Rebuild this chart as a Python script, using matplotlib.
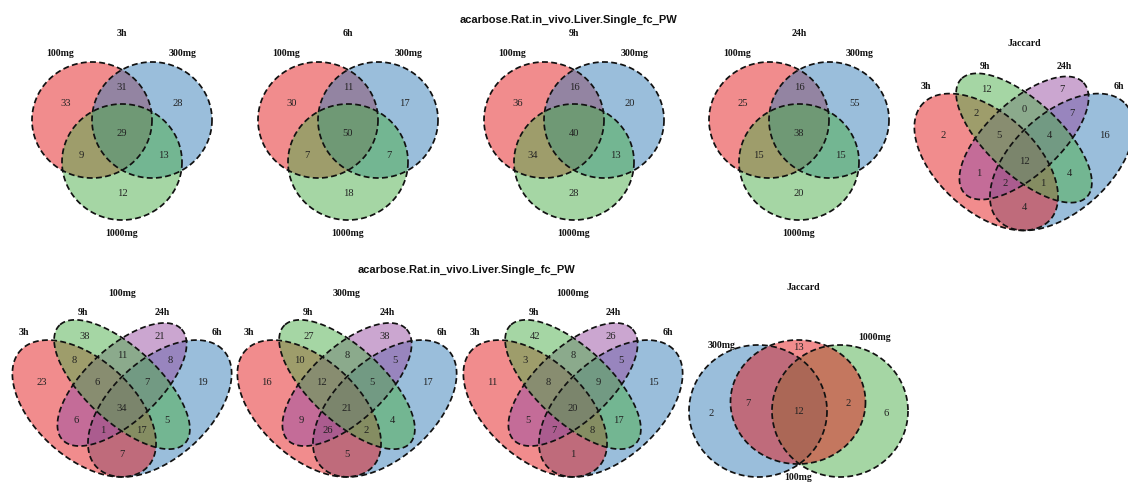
import numpy as np
import matplotlib
matplotlib.use("Agg")
import matplotlib.pyplot as plt
from matplotlib.patches import Polygon

# ---------------- data ----------------
main_title = "acarbose.Rat.in_vivo.Liver.Single_fc_PW"
dose_labels = ["100mg", "300mg", "1000mg"]
time_labels = ["3h", "9h", "24h", "6h"]          # quad order: left outer, left inner, right inner, right outer

# triple venn (A=100mg, B=300mg, C=1000mg); regions: A, AB, B, ABC, AC, BC, C
triple_titles = ["3h", "6h", "9h", "24h"]
counts_3h = [33, 31, 28, 29, 9, 13, 12]
counts_6h = [30, 11, 17, 50, 7, 7, 18]
counts_9h = [36, 16, 20, 40, 34, 13, 28]
counts_24h = [25, 16, 55, 38, 15, 15, 20]

# quad venn regions (VennDiagram order):
# 9h, 9h&24h, 24h, 3h&9h, 3h&9h&24h, all, 9h&24h&6h, 24h&6h,
# 3h, 3h&24h, 3h&24h&6h, 3h&6h, 3h&9h&6h, 9h&6h, 6h
quad_jaccard_time = [12, 0, 7, 2, 5, 12, 4, 7, 2, 1, 2, 4, 1, 4, 16]
quad_100mg = [38, 11, 21, 8, 6, 34, 7, 8, 23, 6, 1, 7, 17, 5, 19]
quad_300mg = [27, 8, 38, 10, 12, 21, 5, 5, 16, 9, 26, 5, 2, 4, 17]
quad_1000mg = [42, 8, 26, 3, 8, 20, 9, 5, 11, 5, 7, 1, 8, 17, 15]

# Jaccard across doses: 300mg only, 300&100, 100 only, all, 100&1000, 1000 only
dose_jaccard = [2, 7, 13, 12, 2, 6]

# ---------------- style ----------------
RED, BLUE, GREEN, PURPLE = "#E41A1C", "#377EB8", "#4DAF4A", "#984EA3"
ALPHA = 0.5
SERIF = ["Liberation Serif", "DejaVu Serif"]
SANS = ["Liberation Sans", "DejaVu Sans"]
NUM_FS = 7.6
CAT_FS = 7.1
LINE_KW = dict(fill=False, edgecolor="#111111", linewidth=1.25, linestyle=(0, (3.4, 1.9)))

W, H = 1128, 484
fig = plt.figure(figsize=(W / 100, H / 100), dpi=100)
ax = fig.add_axes([0, 0, 1, 1])
ax.set_xlim(0, W)
ax.set_ylim(H, 0)
ax.axis("off")

T = np.linspace(0, 2 * np.pi, 400)


def draw_shapes(shapes):
    for pts, col in shapes:
        ax.add_patch(Polygon(pts, closed=True, facecolor=col, alpha=ALPHA, edgecolor="none"))
    for pts, col in shapes:
        ax.add_patch(Polygon(pts, closed=True, **LINE_KW))


def num(x, y, v):
    ax.text(x, y, str(v), ha="center", va="center", fontsize=NUM_FS,
            family=SERIF, color="#222222")


def cat(x, y, s):
    ax.text(x, y, s, ha="center", va="center", fontsize=CAT_FS,
            family=SERIF, fontweight="bold", color="#111111")


# ---- triple venn (circles) ----
TRI_CIRCLES = [(-30, 120, RED), (30, 120, BLUE), (0, 162, GREEN)]
TRI_RX, TRI_RY = 60, 58
TRI_NUM_POS = [(-56, 103), (0, 88), (56, 103), (0, 133), (-41, 156), (41, 156), (0, 193)]
TRI_CAT_POS = [(-62, 54), (61, 54), (0, 234)]


def draw_triple(cx, title, counts):
    shapes = []
    for dx, cy, col in TRI_CIRCLES:
        pts = np.column_stack([cx + dx + TRI_RX * np.cos(T), cy + TRI_RY * np.sin(T)])
        shapes.append((pts, col))
    draw_shapes(shapes)
    for (dx, y), v in zip(TRI_NUM_POS, counts):
        num(cx + dx, y, v)
    for (dx, y), s in zip(TRI_CAT_POS, dose_labels):
        cat(cx + dx, y, s)
    cat(cx, 34, title)


# ---- quad venn (ellipses, VennDiagram template in unit space) ----
SX, SY = 252, 240
QUAD_ELL = [(0.65, 0.47, 0.35, 0.20, 45, BLUE),
            (0.35, 0.47, 0.35, 0.20, 135, RED),
            (0.50, 0.57, 0.33, 0.15, 45, PURPLE),
            (0.50, 0.57, 0.35, 0.15, 135, GREEN)]
QUAD_NUM_POS = [(0.350, 0.77), (0.500, 0.69), (0.650, 0.77), (0.310, 0.67), (0.400, 0.58),
                (0.500, 0.47), (0.600, 0.58), (0.690, 0.67), (0.180, 0.58), (0.320, 0.42),
                (0.425, 0.38), (0.500, 0.28), (0.575, 0.38), (0.680, 0.42), (0.820, 0.58)]
QUAD_CAT_POS = [(0.111, 0.785), (0.345, 0.868), (0.659, 0.868), (0.877, 0.785)]


def draw_quad(cx, cy, title, title_y, counts):
    def to_px(u, v):
        return cx + (u - 0.5) * SX, cy - (v - 0.47) * SY

    shapes = []
    for x0, y0, a, b, rot, col in QUAD_ELL:
        r = np.deg2rad(rot)
        u = x0 + a * np.cos(T) * np.cos(r) - b * np.sin(T) * np.sin(r)
        v = y0 + a * np.cos(T) * np.sin(r) + b * np.sin(T) * np.cos(r)
        px, py = to_px(u, v)
        shapes.append((np.column_stack([px, py]), col))
    draw_shapes(shapes)
    for (u, v), val in zip(QUAD_NUM_POS, counts):
        num(*to_px(u, v), val)
    for (u, v), s in zip(QUAD_CAT_POS, time_labels):
        cat(*to_px(u, v), s)
    cat(cx, title_y, title)


# ---- top row ----
fig.text(568 / W, 1 - 20 / H, main_title, ha="center", va="center",
         fontsize=8.0, family=SANS, fontweight="bold", color="#111111")
for cx, title, counts in zip([122, 348, 574, 799], triple_titles,
                             [counts_3h, counts_6h, counts_9h, counts_24h]):
    draw_triple(cx, title, counts)
draw_quad(1024, 162, "Jaccard", 43, quad_jaccard_time)

# ---- bottom row ----
fig.text(466 / W, 1 - 270 / H, main_title, ha="center", va="center",
         fontsize=8.0, family=SANS, fontweight="bold", color="#111111")
for cx, title, counts in zip([122, 347, 573], dose_labels,
                             [quad_100mg, quad_300mg, quad_1000mg]):
    draw_quad(cx, 408.5, title, 293, counts)

# Jaccard across doses (Euler-like triple)
J_SHAPES = [((758, 411), 69, 66, BLUE), ((840, 411), 68, 66, GREEN), ((798, 402), 67.5, 62, RED)]
shapes = []
for (x0, y0), rx, ry, col in J_SHAPES:
    shapes.append((np.column_stack([x0 + rx * np.cos(T), y0 + ry * np.sin(T)]), col))
draw_shapes(shapes)
J_NUM_POS = [(711, 413), (748, 403), (798, 348), (798, 412), (848, 403), (886, 413)]
for (x, y), v in zip(J_NUM_POS, dose_jaccard):
    num(x, y, v)
cat(722, 345, dose_labels[1])
cat(875, 338, dose_labels[2])
cat(798, 478, dose_labels[0])
cat(803, 288, "Jaccard")

fig.savefig("out.png", dpi=100, facecolor="white")
